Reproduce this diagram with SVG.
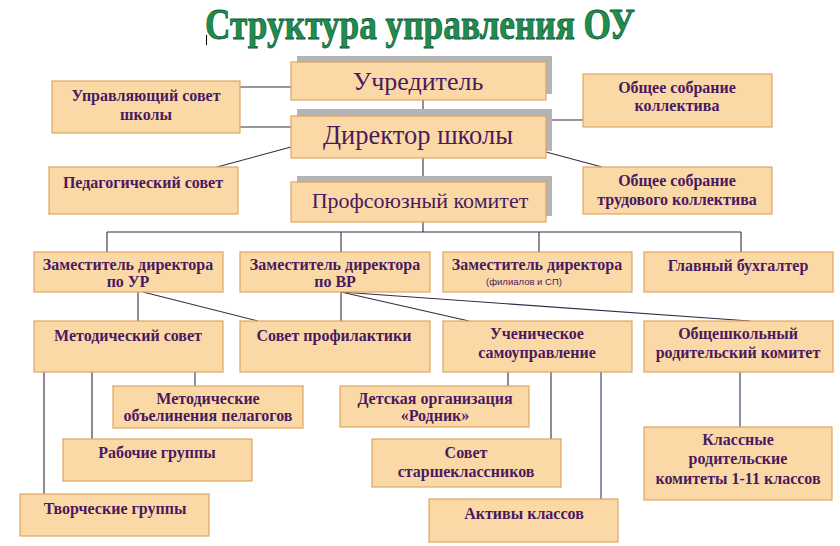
<svg xmlns="http://www.w3.org/2000/svg" width="840" height="546" viewBox="0 0 840 546">
<style>
.box{fill:#fbd9a7;stroke:#dfa561;stroke-width:1.2}
.sh{fill:#b4b4b4}
.t{font-weight:bold;font-size:16px;fill:#4a1a5e;text-anchor:middle}
.m{font-size:26px;fill:#4a1a5e;text-anchor:middle}
.s{font-size:9.5px;fill:#4a1a5e;text-anchor:middle}
.c line{stroke:#3a2848;stroke-width:1.1}
.c line.b{stroke:#7a86a8;stroke-width:1.8}
</style>
<rect width="840" height="546" fill="#ffffff"/>
<text x="420" y="39" text-anchor="middle" textLength="430" lengthAdjust="spacingAndGlyphs" font-family="Liberation Serif, serif" font-weight="bold" font-size="44" fill="#1f8d50" stroke="#0f5c32" stroke-width="0.8">Структура управления ОУ</text>
<line x1="206.5" y1="35" x2="206.5" y2="45" stroke="#000" stroke-width="1"/>

<g class="c" id="connectors">
<line x1="240" y1="87" x2="291" y2="87"/>
<line x1="240" y1="127" x2="291" y2="127"/>
<line x1="217" y1="167" x2="291" y2="147"/>
<line x1="546" y1="120" x2="583" y2="120"/>
<line x1="546" y1="152" x2="602" y2="167"/>
<line x1="423" y1="100" x2="423" y2="116"/>
<line x1="423" y1="158" x2="423" y2="182"/>
<line x1="423" y1="222" x2="423" y2="232"/>
<line x1="107" y1="232" x2="741" y2="232"/>
<line x1="107" y1="232" x2="107" y2="252"/>
<line x1="341" y1="232" x2="341" y2="252"/>
<line x1="539" y1="232" x2="539" y2="252"/>
<line x1="741" y1="232" x2="741" y2="252"/>
<line x1="138" y1="292" x2="138" y2="321"/>
<line x1="143" y1="292" x2="258" y2="321"/>
<line x1="341" y1="292" x2="341" y2="321"/>
<line x1="341" y1="292" x2="469" y2="321"/>
<line x1="341" y1="292" x2="750" y2="321"/>
<line class="b" x1="195" y1="372" x2="195" y2="386"/>
<line x1="92" y1="372" x2="92" y2="439"/>
<line x1="44" y1="372" x2="44" y2="494"/>
<line x1="508" y1="372" x2="508" y2="386"/>
<line x1="551" y1="372" x2="551" y2="439"/>
<line class="b" x1="601" y1="372" x2="601" y2="499"/>
<line class="b" x1="740" y1="372" x2="740" y2="427"/>
</g>

<g font-family="Liberation Serif, serif">
<g id="uchreditel">
<rect class="sh" x="297" y="56" width="255" height="38"/>
<rect class="box" x="291" y="62" width="255" height="38"/>
<text class="m" x="418" y="90">Учредитель</text>
</g>
<g id="direktor">
<rect class="sh" x="297" y="109" width="255" height="42"/>
<rect class="box" x="291" y="116" width="255" height="42"/>
<text class="m" x="418" y="144" style="font-size:26.5px">Директор школы</text>
</g>
<g id="profkom">
<rect class="sh" x="297" y="176" width="255" height="40"/>
<rect class="box" x="291" y="182" width="255" height="40"/>
<text class="m" x="420" y="208" style="font-size:22px">Профсоюзный комитет</text>
</g>

<g id="upr-sovet">
<rect class="box" x="52" y="81" width="188" height="52"/>
<text class="t" x="146" y="101">Управляющий совет</text>
<text class="t" x="146" y="120">школы</text>
</g>
<g id="ped-sovet">
<rect class="box" x="49" y="167" width="189" height="47"/>
<text class="t" x="143" y="188">Педагогический совет</text>
</g>
<g id="obsh-sobr">
<rect class="box" x="583" y="74" width="189" height="53"/>
<text class="t" x="677" y="93">Общее собрание</text>
<text class="t" x="677" y="111">коллектива</text>
</g>
<g id="obsh-trud">
<rect class="box" x="583" y="167" width="189" height="47"/>
<text class="t" x="677" y="186">Общее собрание</text>
<text class="t" x="677" y="205">трудового коллектива</text>
</g>

<g id="zam-ur">
<rect class="box" x="34" y="252" width="189" height="40"/>
<text class="t" x="128" y="270">Заместитель директора</text>
<text class="t" x="128" y="287">по УР</text>
</g>
<g id="zam-vr">
<rect class="box" x="240" y="252" width="190" height="40"/>
<text class="t" x="335" y="270">Заместитель директора</text>
<text class="t" x="335" y="287">по ВР</text>
</g>
<g id="zam-fil">
<rect class="box" x="443" y="252" width="189" height="40"/>
<text class="t" x="537" y="270">Заместитель директора</text>
<text class="s" x="524" y="285" font-family="Liberation Sans, sans-serif">(филиалов и СП)</text>
</g>
<g id="buh">
<rect class="box" x="644" y="252" width="189" height="40"/>
<text class="t" x="738" y="271">Главный бухгалтер</text>
</g>

<g id="metod-sovet">
<rect class="box" x="34" y="321" width="189" height="51"/>
<text class="t" x="128" y="341">Методический совет</text>
</g>
<g id="sovet-prof">
<rect class="box" x="240" y="321" width="190" height="51"/>
<text class="t" x="334" y="341">Совет профилактики</text>
</g>
<g id="uchen">
<rect class="box" x="443" y="321" width="189" height="51"/>
<text class="t" x="537" y="339">Ученическое</text>
<text class="t" x="537" y="358">самоуправление</text>
</g>
<g id="rod-kom">
<rect class="box" x="644" y="321" width="189" height="51"/>
<text class="t" x="738" y="339">Общешкольный</text>
<text class="t" x="738" y="358">родительский комитет</text>
</g>

<g id="metod-ob">
<rect class="box" x="113" y="386" width="190" height="42"/>
<text class="t" x="208" y="404">Методические</text>
<text class="t" x="208" y="421">объелинения пелагогов</text>
</g>
<g id="rab-gr">
<rect class="box" x="63" y="439" width="189" height="42"/>
<text class="t" x="157" y="458">Рабочие группы</text>
</g>
<g id="tvor-gr">
<rect class="box" x="20" y="494" width="189" height="42"/>
<text class="t" x="115" y="514">Творческие группы</text>
</g>
<g id="rodnik">
<rect class="box" x="340" y="386" width="189" height="41"/>
<text class="t" x="435" y="404">Детская организация</text>
<text class="t" x="435" y="421">«Родник»</text>
</g>
<g id="starsh">
<rect class="box" x="372" y="439" width="189" height="48"/>
<text class="t" x="466" y="458">Совет</text>
<text class="t" x="466" y="477">старшеклассников</text>
</g>
<g id="aktivy">
<rect class="box" x="429" y="499" width="189" height="43"/>
<text class="t" x="524" y="519">Активы классов</text>
</g>
<g id="klass-kom">
<rect class="box" x="644" y="427" width="188" height="73"/>
<text class="t" x="738" y="445">Классные</text>
<text class="t" x="738" y="464">родительские</text>
<text class="t" x="738" y="484">комитеты 1-11 классов</text>
</g>
</g>
</svg>
